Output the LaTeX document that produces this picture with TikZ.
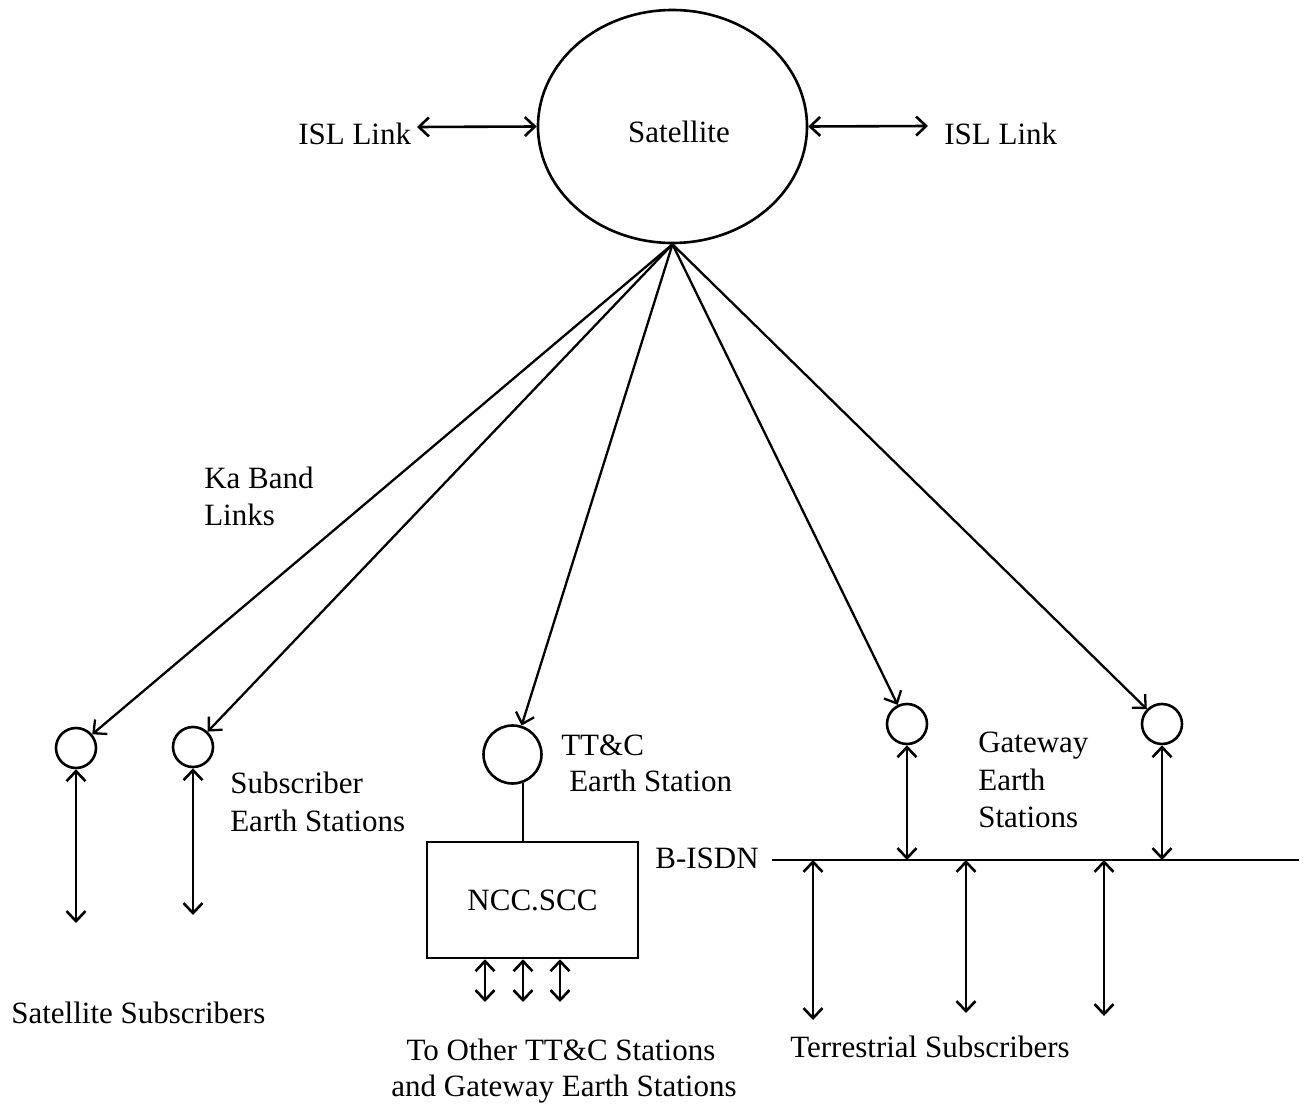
\documentclass[tikz,border=0pt]{standalone}
\usepackage{fontspec}
\setmainfont{Liberation Serif}
\usetikzlibrary{shapes.geometric,arrows.meta}
\begin{document}
\begin{tikzpicture}[x=1pt,y=-1pt,line width=2.6pt,
  >={Straight Barb[length=10pt,width=19pt]},
  every node/.style={font=\fontsize{31}{37}\selectfont},
  station/.style={circle,draw,minimum size=40pt,inner sep=0pt},
  txt/.style={inner sep=0pt},
  link/.style={->,line width=2.3pt},
  duplex/.style={<->}]
\useasboundingbox (0,0) rectangle (1307,1107);

% satellite and inter-satellite links
\node[draw,ellipse,minimum width=269pt,minimum height=233pt,inner sep=0pt] (sat) at (672.5,126.5) {};
\node[txt,anchor=base] (satlbl) at (679,143) {Satellite};
\node[txt,anchor=base west] (islL) at (297,145) {ISL Link};
\node[txt,anchor=base west] (islR) at (943,145) {ISL Link};
\coordinate (islLend) at (417,127);
\coordinate (islRend) at (928,126);
\draw[duplex] (islLend) -- (sat.west);
\draw[duplex] (sat.east) -- (islRend);

% earth stations
\node[station] (sA) at (76,748) {};
\node[station] (sB) at (193,747) {};
\node[station,minimum size=58pt] (sC) at (512.5,754.5) {};
\node[station] (gA) at (907,724) {};
\node[station] (gB) at (1162,724) {};

% Ka band links
\draw[link] (sat.south) -- (sA);
\draw[link] (sat.south) -- (sB);
\draw[link] (sat.south) -- (sC);
\draw[link] (sat.south) -- (gA);
\draw[link] (sat.south) -- (gB);
\node[txt,anchor=base west] (ka1) at (203,488) {Ka Band};
\node[txt,anchor=base west] (ka2) at (203,525) {Links};

% satellite subscribers
\coordinate (uA) at (76,923);
\coordinate (uB) at (193,915);
\draw[duplex] (sA) -- (uA);
\draw[duplex] (sB) -- (uB);
\node[txt,anchor=base west] (sub1) at (229,793) {Subscriber};
\node[txt,anchor=base west] (sub2) at (229,831) {Earth Stations};
\node[txt,anchor=base west] (satsub) at (10,1023) {Satellite Subscribers};

% TT&C station and control centre
\node[txt,anchor=base west] (tt1) at (560,755) {TT\&C};
\node[txt,anchor=base west] (tt2) at (568,791) {Earth Station};
\node[draw,minimum width=211pt,minimum height=116pt,inner sep=0pt] (ncc) at (532.5,900) {NCC.SCC};
\draw (sC.-70) -- (sC.-70 |- ncc.north);
\coordinate (nA) at (485,1002);
\coordinate (nB) at (523,1002);
\coordinate (nC) at (560,1002);
\draw[duplex] (nA |- ncc.south) -- (nA);
\draw[duplex] (nB |- ncc.south) -- (nB);
\draw[duplex] (nC |- ncc.south) -- (nC);
\node[txt,anchor=base] (oth1) at (561,1060) {To Other TT\&C Stations};
\node[txt,anchor=base] (oth2) at (564,1096) {and Gateway Earth Stations};

% B-ISDN bus with gateways and terrestrial subscribers
\coordinate (busL) at (772,860);
\coordinate (busR) at (1299,860);
\draw (busL) -- (busR);
\node[txt,anchor=base east] (bisdn) at (760,868) {B-ISDN};
\draw[duplex] (gA) -- (gA |- busL);
\draw[duplex] (gB) -- (gB |- busL);
\node[txt,anchor=base west] (gw1) at (977,752) {Gateway};
\node[txt,anchor=base west] (gw2) at (977,790) {Earth};
\node[txt,anchor=base west] (gw3) at (977,827) {Stations};
\coordinate (tA) at (813,1020);
\coordinate (tB) at (966,1013);
\coordinate (tC) at (1104,1016);
\draw[duplex] (tA |- busL) -- (tA);
\draw[duplex] (tB |- busL) -- (tB);
\draw[duplex] (tC |- busL) -- (tC);
\node[txt,anchor=base] (terr) at (930,1057) {Terrestrial Subscribers};
\end{tikzpicture}
\end{document}
